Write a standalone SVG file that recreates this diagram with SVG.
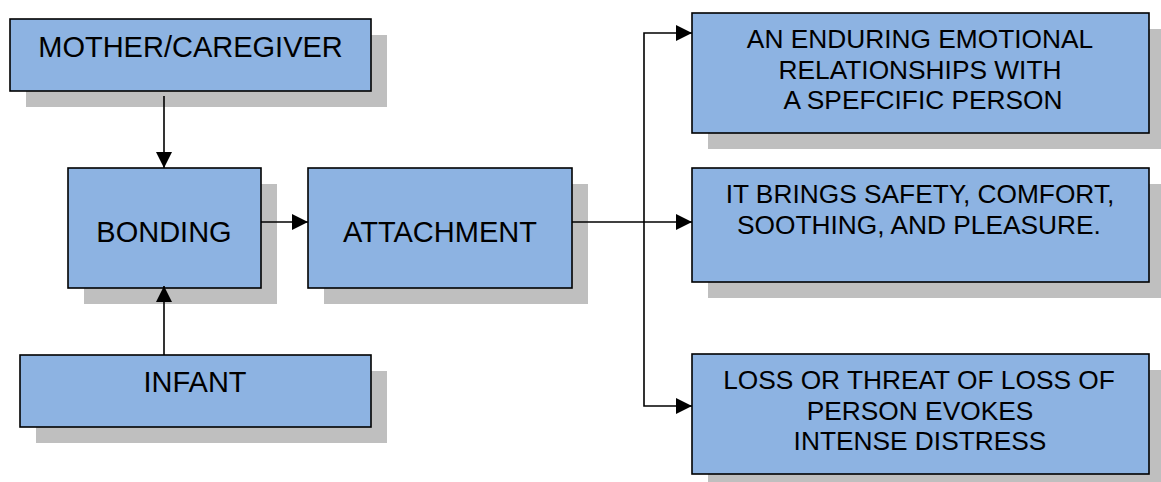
<svg xmlns="http://www.w3.org/2000/svg" width="1161" height="482" viewBox="0 0 1161 482">
<defs>
<style>
.sh{fill:#BFBFBF;stroke:none}
.bx{fill:#8DB3E2;stroke:#000;stroke-width:1.6}
.tl{font-family:"Liberation Sans",Arial,sans-serif;font-size:29px;fill:#000;text-anchor:middle}
.tr{font-family:"Liberation Sans",Arial,sans-serif;font-size:26.3px;fill:#000;text-anchor:middle}
.ln{fill:none;stroke:#000;stroke-width:1.6}
</style>
<marker id="ah" viewBox="0 0 16 16" refX="16" refY="8" markerWidth="16" markerHeight="16" markerUnits="userSpaceOnUse" orient="auto">
<path d="M0,0 L16,8 L0,16 Z" fill="#000"/>
</marker>
</defs>
<rect width="1161" height="482" fill="#fff"/>
<g id="mother">
<rect class="sh" x="26" y="35" width="361" height="72"/>
<rect class="bx" x="10" y="19" width="361" height="72"/>
<text class="tl" x="190.5" y="57">MOTHER/CAREGIVER</text>
</g>
<g id="bonding">
<rect class="sh" x="84" y="184" width="193" height="120"/>
<rect class="bx" x="68" y="168" width="193" height="120"/>
<text class="tl" x="164" y="242">BONDING</text>
</g>
<g id="attachment">
<rect class="sh" x="324" y="184" width="264" height="120"/>
<rect class="bx" x="308" y="168" width="264" height="120"/>
<text class="tl" x="440" y="242">ATTACHMENT</text>
</g>
<g id="infant">
<rect class="sh" x="36" y="371" width="351" height="72"/>
<rect class="bx" x="20" y="355" width="351" height="72"/>
<text class="tl" x="195" y="392">INFANT</text>
</g>
<g id="enduring">
<rect class="sh" x="708" y="29" width="457" height="120"/>
<rect class="bx" x="692" y="13" width="457" height="120"/>
<text class="tr" x="920" y="48">AN ENDURING EMOTIONAL</text>
<text class="tr" x="920" y="79">RELATIONSHIPS WITH</text>
<text class="tr" x="923" y="109">A SPEFCIFIC PERSON</text>
</g>
<g id="safety">
<rect class="sh" x="708" y="184" width="457" height="114"/>
<rect class="bx" x="692" y="168" width="457" height="114"/>
<text class="tr" x="920" y="203">IT BRINGS SAFETY, COMFORT,</text>
<text class="tr" x="919" y="234">SOOTHING, AND PLEASURE.</text>
</g>
<g id="loss">
<rect class="sh" x="708" y="370" width="457" height="120"/>
<rect class="bx" x="692" y="354" width="457" height="120"/>
<text class="tr" x="919" y="389">LOSS OR THREAT OF LOSS OF</text>
<text class="tr" x="920" y="420">PERSON EVOKES</text>
<text class="tr" x="920" y="450">INTENSE DISTRESS</text>
</g>
<g id="connectors">
<path class="ln" d="M164,96 L164,168" marker-end="url(#ah)"/>
<path class="ln" d="M164,355 L164,286" marker-end="url(#ah)"/>
<path class="ln" d="M261,222 L308,222" marker-end="url(#ah)"/>
<path class="ln" d="M572,222 L692,222" marker-end="url(#ah)"/>
<path class="ln" d="M644,222 L644,33 L692,33" marker-end="url(#ah)"/>
<path class="ln" d="M644,222 L644,406 L692,406" marker-end="url(#ah)"/>
</g>
</svg>
